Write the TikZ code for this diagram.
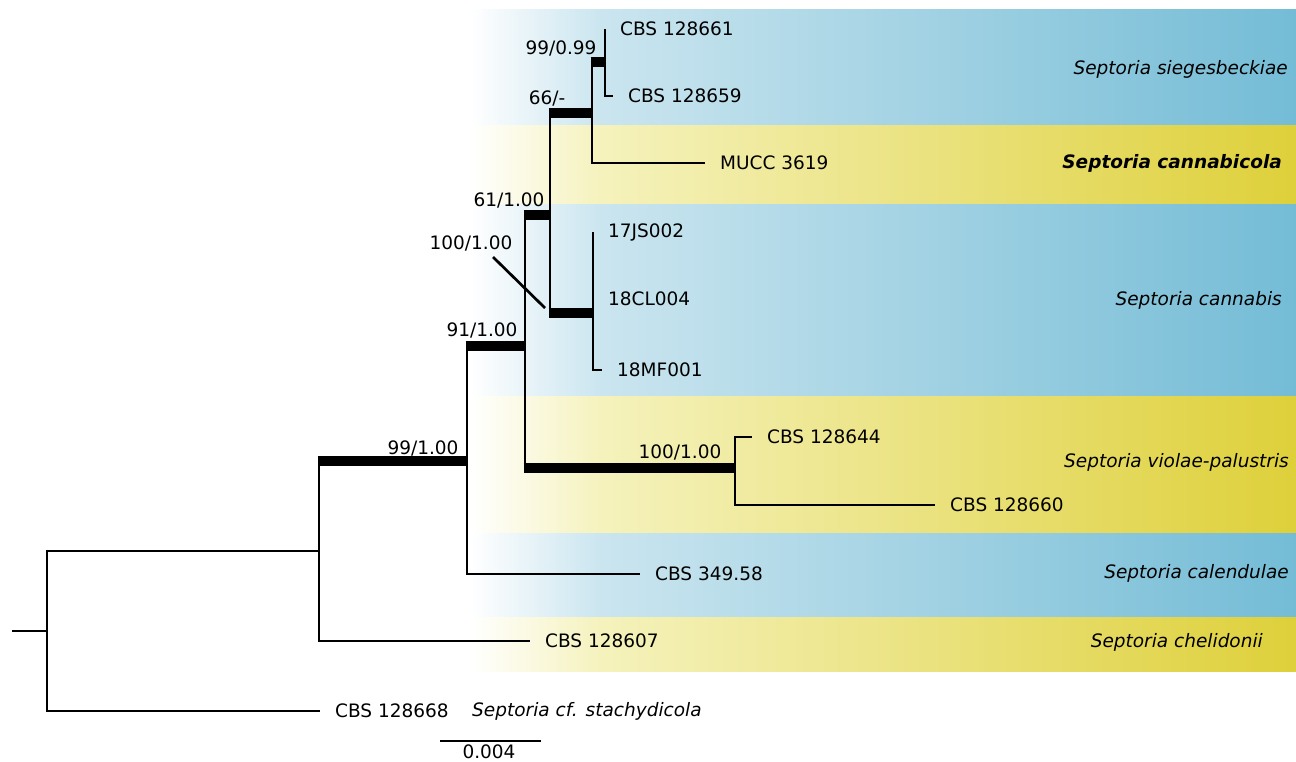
\documentclass[tikz,border=0pt]{standalone}
\usepackage{fontspec}
\setmainfont{DejaVu Sans}
\definecolor{bla}{RGB}{202,229,239}
\definecolor{blb}{RGB}{116,188,214}
\definecolor{yea}{RGB}{245,242,188}
\definecolor{yeb}{RGB}{222,208,58}
\pgfdeclarehorizontalshading{blueband}{100bp}{color(0bp)=(white); color(25bp)=(white); color(33bp)=(bla); color(75bp)=(blb); color(100bp)=(blb)}
\pgfdeclarehorizontalshading{yellowband}{100bp}{color(0bp)=(white); color(25bp)=(white); color(33bp)=(yea); color(75bp)=(yeb); color(100bp)=(yeb)}
\begin{document}
\begin{tikzpicture}[x=1pt,y=-1pt,font=\fontsize{18.5}{22}\selectfont,
  br/.style={line width=2.7pt},
  tb/.style={line width=10pt,shorten <=-1.35pt,shorten >=-1.35pt},
  tip/.style={anchor=west,inner xsep=15pt,inner ysep=0pt},
  sup/.style={inner sep=0pt},
  clade/.style={anchor=east,inner sep=0pt,font=\fontsize{18.5}{22}\selectfont\itshape}]
\useasboundingbox (0,0) rectangle (1296,761);
% bands
\shade[shading=blueband]   (470,9)   rectangle (1296,125);
\shade[shading=yellowband] (470,125) rectangle (1296,204);
\shade[shading=blueband]   (470,204) rectangle (1296,396);
\shade[shading=yellowband] (470,396) rectangle (1296,533);
\shade[shading=blueband]   (470,533) rectangle (1296,617);
\shade[shading=yellowband] (470,617) rectangle (1296,671);
% clade names
\node[clade] (c1) at (1288,69)  {Septoria siegesbeckiae};
\node[clade] (c2) at (1282,163) {\bfseries Septoria cannabicola};
\node[clade] (c3) at (1282,300) {Septoria cannabis};
\node[clade] (c4) at (1289,462) {Septoria violae-palustris};
\node[clade] (c5) at (1289,573) {Septoria calendulae};
\node[clade] (c6) at (1263,642) {Septoria chelidonii};
% internal nodes
\coordinate (R) at (12,631);
\coordinate (A) at (47,631);
\coordinate (B) at (319,551);
\coordinate (C) at (467,461);
\coordinate (D) at (525,346);
\coordinate (E) at (550,215);
\coordinate (F) at (592,113);
\coordinate (G) at (605,62);
\coordinate (H) at (593,313);
\coordinate (I) at (735,468);
% tips
\node[tip] (t1)  at (605,29)  {CBS 128661};
\node[tip] (t2)  at (613,96)  {CBS 128659};
\node[tip] (t3)  at (705,163) {MUCC 3619};
\node[tip] (t4)  at (593,232) {17JS002};
\node[tip] (t5)  at (593,299) {18CL004};
\node[tip] (t6)  at (602,370) {18MF001};
\node[tip] (t7)  at (752,437) {CBS 128644};
\node[tip] (t8)  at (935,505) {CBS 128660};
\node[tip] (t9)  at (640,574) {CBS 349.58};
\node[tip] (t10) at (530,641) {CBS 128607};
\node[tip] (t11) at (320,711) {CBS 128668};
\node[anchor=west,inner sep=0pt,font=\fontsize{18.5}{22}\selectfont\itshape] (sp) at (472,711) {Septoria cf. stachydicola};
% branches
\draw[br] (R) -- (A);
\draw[br] (A) |- (B);
\draw[br] (A) |- (t11.west);
\draw[br] (B) |- (C);
\draw[br] (B) |- (t10.west);
\draw[br] (C) |- (D);
\draw[br] (C) |- (t9.west);
\draw[br] (D) |- (E);
\draw[br] (D) |- (I);
\draw[br] (E) |- (F);
\draw[br] (E) |- (H);
\draw[br] (F) |- (G);
\draw[br] (F) |- (t3.west);
\draw[br] (G) |- (t1.west);
\draw[br] (G) |- (t2.west);
\draw[br] (H) |- (t4.west);
\draw[br] (H) |- (t5.west);
\draw[br] (H) |- (t6.west);
\draw[br] (I) |- (t7.west);
\draw[br] (I) |- (t8.west);
% thick (supported) branches
\draw[tb] (B |- C) -- (C);
\draw[tb] (C |- D) -- (D);
\draw[tb] (D |- E) -- (E);
\draw[tb] (D |- I) -- (I);
\draw[tb] (E |- F) -- (F);
\draw[tb] (E |- H) -- (H);
\draw[tb] (F |- G) -- (G);
% support values
\node[sup] (s1) at (561,48)  {99/0.99};
\node[sup] (s2) at (547,98)  {66/-};
\node[sup] (s3) at (509,200) {61/1.00};
\node[sup] (s4) at (471,243) {100/1.00};
\node[sup] (s5) at (482,330) {91/1.00};
\node[sup] (s6) at (423,448) {99/1.00};
\node[sup] (s7) at (680,452) {100/1.00};
\coordinate (p1) at (493,257);
\coordinate (p2) at (545,308);
\draw[br] (p1) -- (p2);
% scale bar
\coordinate (sb1) at (440,741);
\coordinate (sb2) at (541,741);
\draw[br] (sb1) -- (sb2);
\node[sup] (sbl) at (489,752) {0.004};
\end{tikzpicture}
\end{document}
